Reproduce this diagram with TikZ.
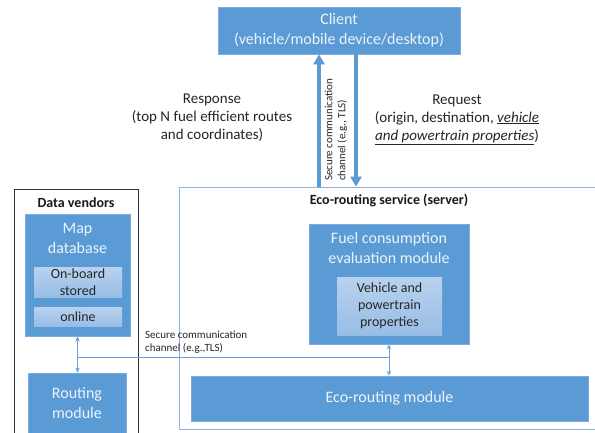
\documentclass[tikz,border=0pt]{standalone}
\usepackage{fontspec}
\setmainfont{Carlito}
\usetikzlibrary{arrows.meta,calc}
\definecolor{boxblue}{RGB}{91,155,213}
\definecolor{boxedge}{RGB}{125,172,222}
\definecolor{lightA}{RGB}{184,210,238}
\definecolor{lightB}{RGB}{152,189,229}
\definecolor{srvedge}{RGB}{140,180,222}
\definecolor{txtlight}{RGB}{236,243,251}
\definecolor{connblue}{RGB}{105,160,218}
\tikzset{
  mainbox/.style={draw=boxedge, fill=boxblue, line width=0.8pt, inner sep=0pt},
  innerbox/.style={draw=none, top color=lightA, bottom color=lightB, inner sep=0pt,
    text=black!85, font=\fontsize{14}{17}\selectfont, align=center},
  maintext/.style={text=txtlight, font=\fontsize{16}{20}\selectfont, align=center, inner sep=0pt},
  bigarrow/.style={draw=boxblue, line width=4pt, -{Triangle[length=10pt,width=11pt]}},
  conn/.style={draw=connblue, line width=0.8pt},
  connarrow/.style={conn, {Stealth[length=5pt,width=4.5pt]}-{Stealth[length=5pt,width=4.5pt]}},
  plaintext/.style={font=\fontsize{15}{18}\selectfont, align=center, text=black!85, inner sep=0pt},
  boldtext/.style={font=\bfseries\fontsize{14}{17}\selectfont, text=black!90, inner sep=0pt},
  smalltext/.style={font=\fontsize{11}{13}\selectfont, text=black!85, inner sep=0pt, align=left}
}
\begin{document}
\begin{tikzpicture}[x=1pt,y=-1pt]
\useasboundingbox (0,0) rectangle (595,432);
\clip (0,0) rectangle (595,432);
\fill[white] (0,0) rectangle (595,432);

% Client
\node[mainbox, minimum width=242pt, minimum height=47pt] (client) at (339,30.5) {};
\node[maintext] (clienttext) at (339,30.5) {Client\\(vehicle/mobile device/desktop)};

% Server container
\node[draw=srvedge, line width=0.8pt, minimum width=426pt, minimum height=242pt, inner sep=0pt] (server) at (392,308) {};
\node[boldtext] (servertitle) at (389,200) {Eco-routing service (server)};

% Fuel consumption module
\node[mainbox, minimum width=160pt, minimum height=120pt] (fuel) at (389,284) {};
\node[maintext] (fueltext) at (389,248) {Fuel consumption\\evaluation module};
\node[innerbox, minimum width=105pt, minimum height=58pt] (vehicle) at (389.5,306) {Vehicle and\\powertrain\\properties};

% Eco-routing module
\node[mainbox, minimum width=397pt, minimum height=45pt, maintext] (eco) at (389.5,398.5) {Eco-routing module};

% Data vendors
\node[draw=black!80, line width=0.8pt, minimum width=124pt, minimum height=256pt, inner sep=0pt] (vendors) at (76,317) {};
\node[boldtext] (vendorstitle) at (76,203) {Data vendors};
\node[mainbox, minimum width=105pt, minimum height=122pt] (mapdb) at (77.5,275) {};
\node[maintext] (mapdbtext) at (77.5,238.5) {Map\\database};
\node[innerbox, minimum width=88pt, minimum height=30pt] (onboard) at (78,282) {On-board\\stored};
\node[innerbox, minimum width=88pt, minimum height=19pt] (online) at (78,316.5) {online};
\node[mainbox, minimum width=98pt, minimum height=72pt] (routing) at (77,409) {};
\node[maintext] (routingtext) at (77,403) {Routing\\module};

% Client <-> server arrows
\coordinate (upx) at (319,0);
\coordinate (downx) at (356,0);
\draw[bigarrow] (upx |- server.north) -- (upx |- client.south);
\draw[bigarrow] (downx |- client.south) -- (downx |- server.north);
\node[smalltext, rotate=90, anchor=west] (tlsv) at (336,181) {Secure communication\\channel (e.g., TLS)};

% Response / Request labels
\node[plaintext] (response) at (212,118) {Response\\(top N fuel efficient routes\\and coordinates)};
\node[plaintext] (request) at (457,119.5) {Request\\(origin, destination, \underline{\textit{vehicle}}\\\underline{\textit{and powertrain properties}})};

% Internal connectors
\coordinate (junc) at (mapdb.south |- 0,357);
\draw[connarrow] (mapdb.south) -- (mapdb.south |- routing.north);
\draw[conn] (junc) -- (junc -| fuel.south);
\draw[connarrow] (fuel.south) -- (fuel.south |- eco.north);
\node[smalltext, anchor=south west] (tlsh) at (145,354) {Secure communication\\channel (e.g.,TLS)};
\end{tikzpicture}
\end{document}
